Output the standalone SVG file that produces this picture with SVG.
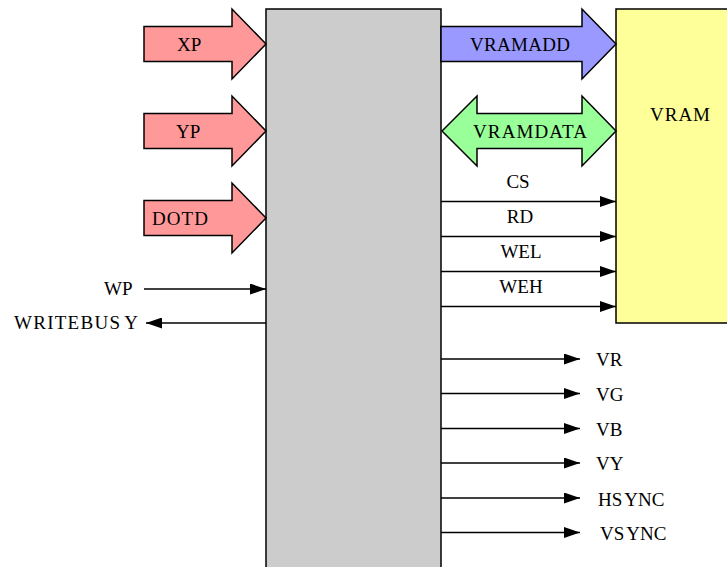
<svg xmlns="http://www.w3.org/2000/svg" width="727" height="567" viewBox="0 0 727 567">
  <style>
    text { font-family: "Liberation Serif", Tinos, "Times New Roman", Times, "DejaVu Serif", serif; font-size: 19px; fill: #000; }
    .blk { stroke: #000; stroke-width: 1.5; }
    .wire { stroke: #000; stroke-width: 1.5; fill: none; marker-end: url(#head); }
    .bus { stroke: #000; stroke-width: 1.5; stroke-linejoin: miter; }
  </style>
  <defs>
    <marker id="head" viewBox="0 0 16 11" refX="16" refY="5.5" markerWidth="16" markerHeight="11" markerUnits="userSpaceOnUse" orient="auto">
      <path d="M0,0 L16,5.5 L0,11 Z" fill="#000"/>
    </marker>
  </defs>

  <rect width="727" height="567" fill="#fff"/>

  <!-- controller block -->
  <g id="controller">
    <rect class="blk" x="266" y="9" width="175" height="575" fill="#CCCCCC"/>
  </g>

  <!-- video memory -->
  <g id="vram">
    <rect class="blk" x="616" y="9" width="130" height="314" fill="#FFFF99"/>
    <text x="650" y="121" textLength="60" lengthAdjust="spacing">VRAM</text>
  </g>

  <!-- input buses -->
  <g id="xp">
    <polygon class="bus" fill="#FF9999" points="144,26.5 232,26.5 232,9 266,44 232,79 232,61.5 144,61.5"/>
    <text x="177" y="50.5">XP</text>
  </g>
  <g id="yp">
    <polygon class="bus" fill="#FF9999" points="144,113.5 232,113.5 232,96 266,131 232,166 232,148.5 144,148.5"/>
    <text x="176" y="138">YP</text>
  </g>
  <g id="dotd">
    <polygon class="bus" fill="#FF9999" points="144,200.5 232,200.5 232,183 266,218 232,253 232,235.5 144,235.5"/>
    <text x="152" y="225" textLength="56" lengthAdjust="spacing">DOTD</text>
  </g>

  <!-- memory buses -->
  <g id="vramadd">
    <polygon class="bus" fill="#9999FF" points="441,26.5 582,26.5 582,9 616,44 582,79 582,61.5 441,61.5"/>
    <text x="470" y="51" textLength="100" lengthAdjust="spacing">VRAMADD</text>
  </g>
  <g id="vramdata">
    <polygon class="bus" fill="#99FF99" points="442,131 477,96 477,113.5 582,113.5 582,96 616,131 582,166 582,148.5 477,148.5 477,166"/>
    <text x="473" y="137.5" textLength="114" lengthAdjust="spacing">VRAMDATA</text>
  </g>

  <!-- control and video signals -->
  <g id="connectors">
    <line class="wire" x1="144" y1="289" x2="266" y2="289"/>
    <line class="wire" x1="266" y1="323" x2="146" y2="323"/>

    <line class="wire" x1="441" y1="201.5" x2="616" y2="201.5"/>
    <line class="wire" x1="441" y1="236.5" x2="616" y2="236.5"/>
    <line class="wire" x1="441" y1="271.5" x2="616" y2="271.5"/>
    <line class="wire" x1="441" y1="306.5" x2="616" y2="306.5"/>

    <line class="wire" x1="441" y1="359" x2="580" y2="359"/>
    <line class="wire" x1="441" y1="393.5" x2="580" y2="393.5"/>
    <line class="wire" x1="441" y1="428.5" x2="580" y2="428.5"/>
    <line class="wire" x1="441" y1="463" x2="580" y2="463"/>
    <line class="wire" x1="441" y1="498" x2="580" y2="498"/>
    <line class="wire" x1="441" y1="532.5" x2="580" y2="532.5"/>
  </g>

  <!-- signal labels -->
  <g id="labels">
    <text x="104" y="295">WP</text>
    <text x="14" y="329" textLength="124" lengthAdjust="spacing">WRITEBUS<tspan dx="3">Y</tspan></text>

    <text x="518" y="188" text-anchor="middle">CS</text>
    <text x="520" y="223" text-anchor="middle">RD</text>
    <text x="521" y="258" text-anchor="middle">WEL</text>
    <text x="521" y="293" text-anchor="middle">WEH</text>

    <text x="596" y="365.5">VR</text>
    <text x="596" y="400.5">VG</text>
    <text x="596" y="435.5">VB</text>
    <text x="596" y="470">VY</text>
    <text x="598" y="505.5">HS<tspan dx="2">YNC</tspan></text>
    <text x="600" y="540">VS<tspan dx="2">YNC</tspan></text>
  </g>
</svg>
